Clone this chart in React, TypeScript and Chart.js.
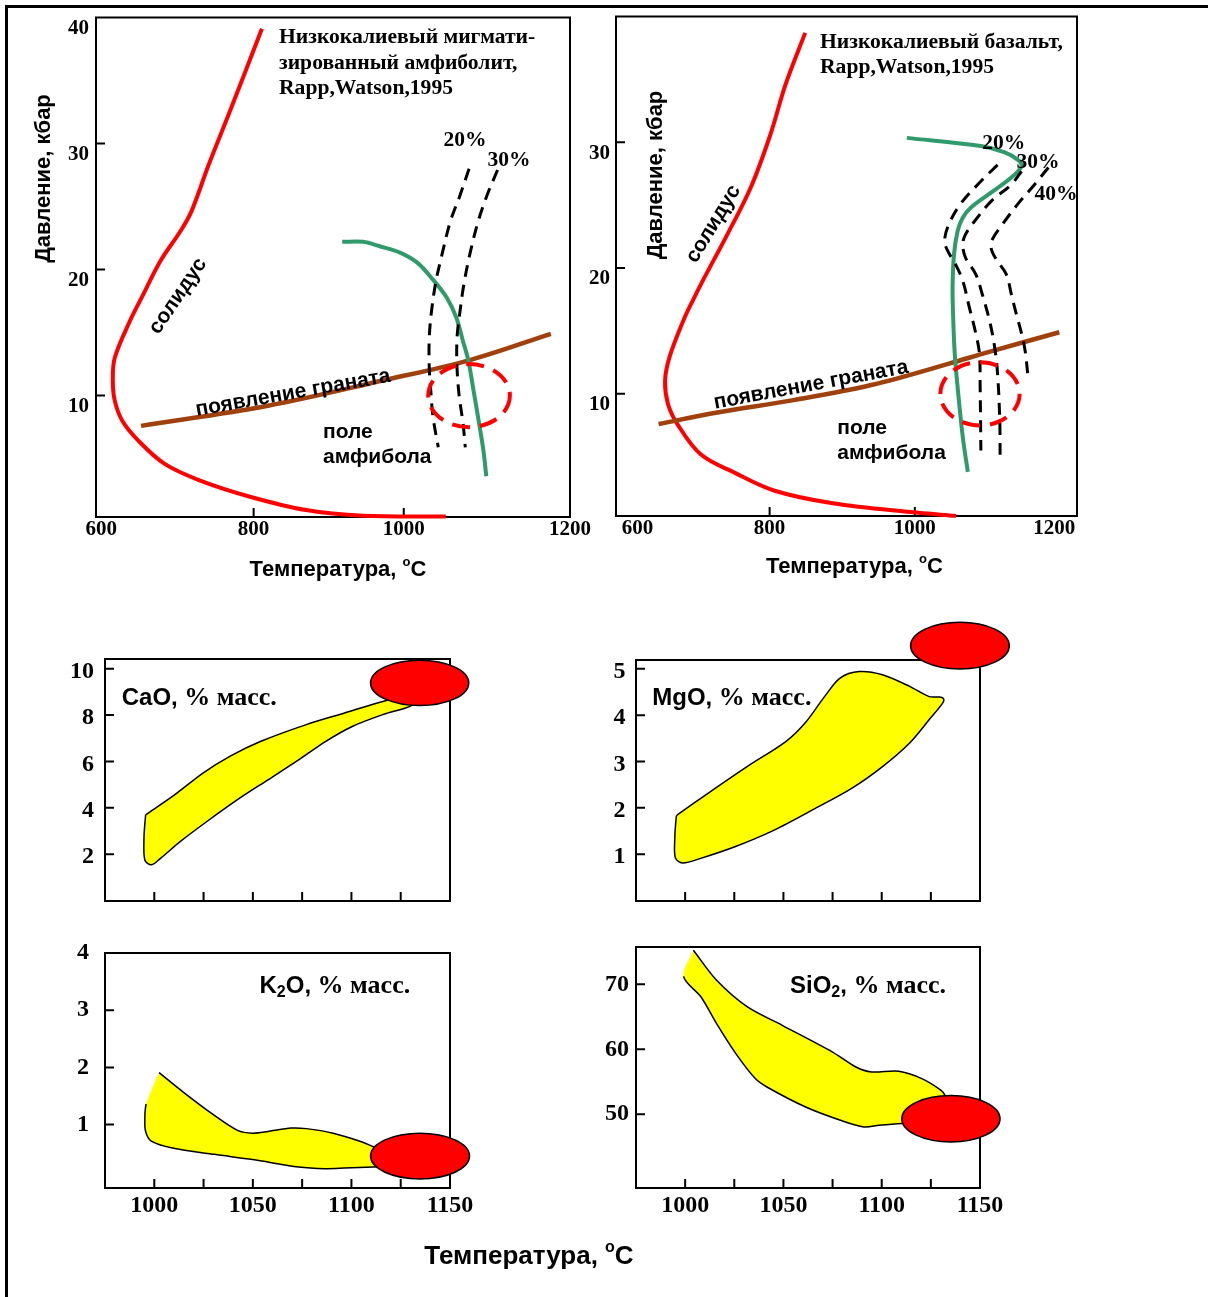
import React, { useEffect, useRef } from 'react';
import { Chart, registerables } from 'chart.js';

Chart.register(...registerables);

type Pt = [number, number];

// ---------- Panel 1: low-K migmatized amphibolite (T, P) ----------
const p1Solidus: Pt[] = [[811, 39.1], [768, 32.5], [740, 28.3], [717, 24.6], [702, 23.0], [676, 20.7], [651, 17.8], [635, 15.9], [615, 13.0], [612.4, 11.2], [615, 9.6], [625, 8.0], [646, 6.45], [681, 4.6], [727, 3.3], [794, 2.0], [870, 0.92], [946, 0.47], [1056, 0.4]];
const p1Garnet: Pt[] = [[650, 7.6], [819, 9.2], [972, 11.2], [1087, 12.8], [1196, 14.9]];
const p1Amphibole: Pt[] = [[918, 22.2], [946, 22.2], [968, 21.85], [995, 21.35], [1018, 20.55], [1039, 19.2], [1057, 17.8], [1070, 16.2], [1079, 14.3], [1086, 12.8], [1093, 10.4], [1099, 8.3], [1106, 5.7], [1110, 3.6]];
const p1Melt20: Pt[] = [[1087, 28.0], [1075, 25.9], [1062, 23.8], [1051, 21.2], [1043, 19.1], [1037, 16.7], [1034, 14.6], [1034, 12.2], [1036, 10.4], [1039, 8.3], [1046, 5.9]];
const p1Melt30: Pt[] = [[1125, 27.9], [1111, 25.9], [1099, 23.8], [1088, 21.2], [1080, 18.8], [1075, 16.7], [1071, 14.6], [1071, 12.2], [1074, 9.9], [1079, 7.8], [1082, 5.9]];
const p1Field = [1087, 10.0, 54.4, 2.5]; // centre T, centre P, half-width T, half-height P
const p1XTicks = [597, 800, 1000, 1221.5];
const p1XLabels = ['600', '800', '1000', '1200'];
const p1YTicks = [10, 20, 30, 40];
const p1YLabels = ['10', '20', '30', '40'];

// ---------- Panel 2: low-K basalt (T, P) ----------
const p2Solidus: Pt[] = [[849, 38.7], [822, 34.6], [801, 30.6], [774, 26.4], [742, 22.7], [708, 19.0], [694, 17.4], [681, 15.8], [662, 12.9], [656, 11.05], [660, 9.2], [673, 7.6], [705, 5.2], [753, 3.7], [807, 2.3], [887, 1.3], [994, 0.6], [1057, 0.3]];
const p2Garnet: Pt[] = [[647, 7.6], [726, 8.5], [833, 9.5], [940, 10.7], [1047, 12.4], [1100, 13.3], [1199, 14.9]];
const p2Amphibole: Pt[] = [[989, 30.35], [1091, 29.7], [1124, 29.2], [1142, 28.6], [1147, 28.1], [1133, 27.2], [1105, 26.0], [1077, 24.8], [1066, 24.0], [1059, 22.95], [1054, 21.1], [1052, 18.45], [1053, 15.8], [1055, 13.2], [1059, 10.5], [1066, 6.6], [1073, 3.8]];
const p2Melt20: Pt[] = [[1114, 28.2], [1091, 26.9], [1063, 25.1], [1047, 23.5], [1041, 22.2], [1045, 21.4], [1056, 20.3], [1066, 19.0], [1075, 16.9], [1084, 14.8], [1089, 13.2], [1090, 10.5], [1091, 5.5]];
const p2Melt30: Pt[] = [[1147, 27.7], [1133, 26.65], [1105, 25.3], [1082, 23.7], [1070, 22.7], [1066, 21.9], [1070, 20.8], [1084, 19.5], [1093, 17.9], [1103, 15.8], [1110, 13.7], [1114, 11.6], [1117, 7.9], [1117.5, 4.85]];
const p2Melt40: Pt[] = [[1184, 28.0], [1165, 26.65], [1142, 25.1], [1121, 23.5], [1107, 22.3], [1105, 21.6], [1112, 20.7], [1126, 19.5], [1133, 17.9], [1140, 16.3], [1147, 14.8], [1152, 13.4], [1156, 11.3]];
const p2Field = [1089.8, 10.0, 54.6, 2.51];
const p2XTicks = [618, 800, 1000, 1192];
const p2XLabels = ['600', '800', '1000', '1200'];
const p2YTicks = [10, 20, 30];
const p2YLabels = ['10', '20', '30'];

// ---------- Lower panels: melt composition vs T ----------
const lowerXMarks = [1000, 1025, 1050, 1075, 1100, 1125];
const lowerXTicks = [1000, 1050, 1100, 1150];
const lowerXLabels = ['1000', '1050', '1100', '1150'];

const caoField: Pt[] = [[995.6, 3.7], [1009.2, 4.49], [1024.7, 5.5], [1038.3, 6.22], [1053.8, 6.86], [1077.1, 7.59], [1096.5, 8.09], [1115.9, 8.59], [1127.6, 8.81], [1136, 8.85], [1130.5, 8.41], [1115.9, 8.02], [1100.4, 7.51], [1086.8, 6.86], [1073.2, 6.07], [1057.7, 5.21], [1042.2, 4.35], [1026.7, 3.41], [1013.1, 2.54], [1003.3, 1.83], [998.5, 1.54], [995.2, 1.75], [994.8, 2.76], [995.6, 3.7]];
const caoMelt = [1134.6, 9.39, 24.9, 0.98];
const caoYTicks = [2, 4, 6, 8, 10];

const mgoField: Pt[] = [[996.0, 1.85], [1011.8, 2.32], [1031.5, 2.89], [1051.2, 3.43], [1061.0, 3.83], [1070.9, 4.4], [1078.8, 4.8], [1088.6, 4.94], [1100.4, 4.87], [1114.2, 4.62], [1124.1, 4.4], [1129.5, 4.39], [1131.5, 4.35], [1131.0, 4.26], [1124.1, 3.9], [1114.2, 3.4], [1100.4, 2.89], [1084.7, 2.42], [1065.0, 1.96], [1045.3, 1.52], [1025.3, 1.16], [1007.9, 0.91], [999.0, 0.81], [995.1, 0.91], [994.7, 1.31], [995.5, 1.81], [996.0, 1.85]];
const mgoMelt = [1139.8, 5.5, 25.1, 0.503];
const mgoYTicks = [1, 2, 3, 4, 5];

const k2oField: Pt[] = [[1002.4, 1.91], [1015.0, 1.56], [1030.5, 1.16], [1042.2, 0.9], [1049.9, 0.85], [1057.7, 0.88], [1069.4, 0.94], [1077.1, 0.93], [1090.7, 0.85], [1104.3, 0.71], [1113.0, 0.59], [1122.2, 0.5], [1125, 0.38], [1122.2, 0.28], [1111.1, 0.26], [1096.5, 0.24], [1086.8, 0.23], [1073.2, 0.26], [1049.9, 0.39], [1030.5, 0.48], [1009.2, 0.59], [998.5, 0.71], [995.6, 0.88], [995.2, 1.1], [995.9, 1.36], [1002.4, 1.91]];
const k2oMelt = [1134.8, 0.45, 25.1, 0.4];
const k2oYTicks = [1, 2, 3, 4];

const sio2Field: Pt[] = [[1004.2, 75.23], [1016.0, 70.62], [1031.7, 66.51], [1049.4, 63.69], [1075.0, 59.58], [1086.9, 57.28], [1094.8, 56.51], [1108.6, 56.62], [1120.4, 55.49], [1130.2, 53.69], [1132.2, 52.92], [1135, 50.5], [1130, 48.8], [1110.5, 48.57], [1098.7, 48.31], [1090.9, 48.05], [1079.0, 49.08], [1061.3, 51.12], [1041.6, 54.2], [1035.7, 55.49], [1025.8, 59.34], [1016.0, 63.95], [1008.1, 68.05], [999.2, 71.23], [1004.2, 75.23]];
const sio2Melt = [1135.2, 49.31, 25.0, 3.57];
const sio2YTicks = [50, 60, 70];

// ---------- styling ----------
const SANS = '"Liberation Sans", Arial, Helvetica, sans-serif';
const SERIF = '"Liberation Serif", "Times New Roman", Times, serif';
const sans = (s: number) => `bold ${s}px ${SANS}`;
const serif = (s: number) => `bold ${s}px ${SERIF}`;
const RED = '#ff0000';
const GREEN = '#2f9a6a';
const BROWN = '#a0410d';
const YELLOW = '#ffff00';

type Run = { t: string; f: string; dy?: number };
type Label = { runs: Run[]; x: number; y: number; align: 'left' | 'center'; rot?: number };
type Ellipse = { c: number[]; filled: boolean };

interface PanelSpec {
  box: [number, number, number, number];
  frame: [number, number, number, number];
  x: [number, number];
  y: [number, number];
  xTicks: number[];
  xLabels: string[];
  xMarks: number[];
  xPad: number;
  yTicks: number[];
  yLabels: string[];
  yMarks: number[];
  yPad: number;
  yOff: number;
  tickSize: number;
  datasets: any[];
  ellipses: Ellipse[];
  labels: Label[];
}

const toXY = (pts: Pt[]) => pts.map(([x, y]) => ({ x, y }));

const curve = (pts: Pt[], color: string, width: number, dash: number[] = []) => ({
  data: toXY(pts),
  borderColor: color,
  borderWidth: width,
  borderDash: dash,
  borderCapStyle: 'butt',
  borderJoinStyle: 'round',
  pointRadius: 0,
  tension: 0.35,
  fill: false,
  clip: false,
});

const region = (pts: Pt[], openClosingEdge: boolean) => ({
  data: toXY(pts),
  borderColor: '#000',
  borderWidth: 1.5,
  backgroundColor: YELLOW,
  fill: 'shape',
  pointRadius: 0,
  tension: 0.3,
  clip: false,
  segment: {
    borderColor: (ctx: any) =>
      openClosingEdge && ctx.p1DataIndex === pts.length - 1 ? 'rgba(0,0,0,0)' : '#000',
  },
});

const txt = (t: string, f: string, x: number, y: number, align: 'left' | 'center' = 'left', rot = 0): Label => ({
  runs: [{ t, f }],
  x,
  y,
  align,
  rot,
});

const tempTitle = (x: number, y: number, size: number): Label => ({
  runs: [
    { t: 'Температура, ', f: sans(size) },
    { t: 'o', f: sans(Math.round(size * 0.6)), dy: -size * 0.35 },
    { t: 'C', f: sans(size) },
  ],
  x,
  y,
  align: 'center',
});

const oxideLabel = (first: Run[], x: number, y: number): Label => ({
  runs: [...first, { t: ' % масс.', f: serif(26) }],
  x,
  y,
  align: 'left',
});

const panels: PanelSpec[] = [
  {
    box: [0, 0, 600, 600],
    frame: [96, 15, 570, 517],
    x: [590, 1221.5],
    y: [0.37, 40],
    xTicks: p1XTicks,
    xLabels: p1XLabels,
    xMarks: [800, 1000],
    xPad: 2.5,
    yTicks: p1YTicks,
    yLabels: p1YLabels,
    yMarks: [10, 20, 30],
    yPad: 7,
    yOff: 11,
    tickSize: 21,
    datasets: [
      curve(p1Melt20, '#000', 3, [12, 8]),
      curve(p1Melt30, '#000', 3, [12, 8]),
      curve(p1Amphibole, GREEN, 4),
      curve(p1Garnet, BROWN, 4.5),
      curve(p1Solidus, RED, 4),
    ],
    ellipses: [{ c: p1Field, filled: false }],
    labels: [
      txt('Низкокалиевый мигмати-', serif(21.6), 279, 37),
      txt('зированный амфиболит,', serif(21.6), 279, 63),
      txt('Rapp,Watson,1995', serif(21.6), 279, 88.5),
      txt('20%', serif(21.5), 465, 140, 'center'),
      txt('30%', serif(21.5), 509, 160, 'center'),
      txt('солидус', sans(21), 178, 296, 'center', -56),
      txt('появление граната', sans(21), 293, 393, 'center', -10),
      txt('поле', sans(21), 323, 432),
      txt('амфибола', sans(21), 323, 457),
      txt('Давление, кбар', sans(22), 44, 178.5, 'center', -90),
      tempTitle(338, 570, 22),
    ],
  },
  {
    box: [570, 0, 638, 600],
    frame: [616, 15, 1077, 516],
    x: [588.4, 1223.4],
    y: [0.29, 40],
    xTicks: p2XTicks,
    xLabels: p2XLabels,
    xMarks: [800, 1000],
    xPad: 2,
    yTicks: p2YTicks,
    yLabels: p2YLabels,
    yMarks: [10, 20, 30],
    yPad: 6,
    yOff: 11,
    tickSize: 21,
    datasets: [
      curve(p2Melt20, '#000', 3, [12, 8]),
      curve(p2Melt30, '#000', 3, [12, 8]),
      curve(p2Melt40, '#000', 3, [12, 8]),
      curve(p2Amphibole, GREEN, 4),
      curve(p2Garnet, BROWN, 4.5),
      curve(p2Solidus, RED, 4),
    ],
    ellipses: [{ c: p2Field, filled: false }],
    labels: [
      txt('Низкокалиевый базальт,', serif(21.6), 820, 42),
      txt('Rapp,Watson,1995', serif(21.6), 820, 67),
      txt('20%', serif(21.5), 1003.7, 143.3, 'center'),
      txt('30%', serif(21.5), 1038, 162.7, 'center'),
      txt('40%', serif(21.5), 1056, 194, 'center'),
      txt('солидус', sans(21), 713.4, 224, 'center', -59),
      txt('появление граната', sans(21), 811, 385, 'center', -10.5),
      txt('поле', sans(21), 837.3, 428.3),
      txt('амфибола', sans(21), 837.3, 453.3),
      txt('Давление, кбар', sans(22), 656, 175, 'center', -90),
      tempTitle(854.4, 566.7, 22),
    ],
  },
  {
    box: [0, 600, 600, 330],
    frame: [105, 659, 450, 901],
    x: [975, 1150],
    y: [-0.02, 10.42],
    xTicks: lowerXMarks,
    xLabels: [],
    xMarks: lowerXMarks,
    xPad: 5,
    yTicks: caoYTicks,
    yLabels: caoYTicks.map(String),
    yMarks: caoYTicks,
    yPad: 11,
    yOff: 3,
    tickSize: 24,
    datasets: [region(caoField, false)],
    ellipses: [{ c: caoMelt, filled: true }],
    labels: [oxideLabel([{ t: 'CaO,', f: sans(24) }], 121.7, 698.3)],
  },
  {
    box: [580, 600, 628, 330],
    frame: [636, 660, 980, 901],
    x: [975, 1150],
    y: [-0.01, 5.19],
    xTicks: lowerXMarks,
    xLabels: [],
    xMarks: lowerXMarks,
    xPad: 5,
    yTicks: mgoYTicks,
    yLabels: mgoYTicks.map(String),
    yMarks: mgoYTicks,
    yPad: 10.5,
    yOff: 3,
    tickSize: 24,
    datasets: [region(mgoField, false)],
    ellipses: [{ c: mgoMelt, filled: true }],
    labels: [oxideLabel([{ t: 'MgO,', f: sans(24) }], 652.3, 698.3)],
  },
  {
    box: [0, 925, 700, 372],
    frame: [105, 947, 450, 1188],
    x: [975, 1150],
    y: [-0.108, 4],
    xTicks: lowerXTicks,
    xLabels: lowerXLabels,
    xMarks: lowerXMarks,
    xPad: 5.3,
    yTicks: k2oYTicks,
    yLabels: k2oYTicks.map(String),
    yMarks: [1, 2, 3],
    yPad: 16,
    yOff: 0,
    tickSize: 24,
    datasets: [region(k2oField, true)],
    ellipses: [{ c: k2oMelt, filled: true }],
    labels: [
      oxideLabel(
        [
          { t: 'K', f: sans(24) },
          { t: '2', f: sans(16), dy: 6 },
          { t: 'O,', f: sans(24) },
        ],
        259.5,
        986.7
      ),
      tempTitle(529, 1256.7, 26),
    ],
  },
  {
    box: [580, 925, 628, 372],
    frame: [636, 947, 980, 1188],
    x: [975, 1150],
    y: [38.66, 75.74],
    xTicks: lowerXTicks,
    xLabels: lowerXLabels,
    xMarks: lowerXMarks,
    xPad: 5.3,
    yTicks: sio2YTicks,
    yLabels: sio2YTicks.map(String),
    yMarks: sio2YTicks,
    yPad: 7,
    yOff: 0,
    tickSize: 24,
    datasets: [region(sio2Field, true)],
    ellipses: [{ c: sio2Melt, filled: true }],
    labels: [
      oxideLabel(
        [
          { t: 'SiO', f: sans(24) },
          { t: '2', f: sans(16), dy: 6 },
          { t: ',', f: sans(24) },
        ],
        790,
        986.7
      ),
    ],
  },
];

function drawLabel(ctx: CanvasRenderingContext2D, lb: Label, ox: number, oy: number) {
  ctx.save();
  ctx.translate(lb.x - ox, lb.y - oy);
  if (lb.rot) ctx.rotate((lb.rot * Math.PI) / 180);
  ctx.fillStyle = '#000';
  ctx.textBaseline = 'middle';
  ctx.textAlign = 'left';
  const widths = lb.runs.map((r) => {
    ctx.font = r.f;
    return ctx.measureText(r.t).width;
  });
  const total = widths.reduce((a, b) => a + b, 0);
  let x = lb.align === 'center' ? -total / 2 : 0;
  lb.runs.forEach((r, i) => {
    ctx.font = r.f;
    ctx.fillText(r.t, x, r.dy || 0);
    x += widths[i];
  });
  ctx.restore();
}

function Panel({ spec }: { spec: PanelSpec }) {
  const ref = useRef<HTMLCanvasElement>(null);
  useEffect(() => {
    const [bl, bt, bw, bh] = spec.box;
    const [fl, ft, fr, fb] = spec.frame;
    const tickFont = { family: SERIF, size: spec.tickSize, weight: 'bold' as const, lineHeight: 1 };
    const decor = {
      id: 'decor',
      beforeDatasetsDraw(chart: any) {
        const { ctx, chartArea: a, scales } = chart;
        ctx.save();
        ctx.strokeStyle = '#000';
        ctx.lineWidth = 2;
        ctx.strokeRect(a.left, a.top, a.right - a.left, a.bottom - a.top);
        ctx.beginPath();
        spec.xMarks.forEach((v) => {
          const p = scales.x.getPixelForValue(v);
          ctx.moveTo(p, a.bottom);
          ctx.lineTo(p, a.bottom - 9);
        });
        spec.yMarks.forEach((v) => {
          const p = scales.y.getPixelForValue(v);
          ctx.moveTo(a.left, p);
          ctx.lineTo(a.left + 9, p);
        });
        ctx.stroke();
        ctx.restore();
      },
      afterDatasetsDraw(chart: any) {
        const { ctx, scales } = chart;
        spec.ellipses.forEach((e) => {
          const cx = scales.x.getPixelForValue(e.c[0]);
          const cy = scales.y.getPixelForValue(e.c[1]);
          const rx = Math.abs(scales.x.getPixelForValue(e.c[0] + e.c[2]) - cx);
          const ry = Math.abs(scales.y.getPixelForValue(e.c[1] + e.c[3]) - cy);
          ctx.save();
          ctx.beginPath();
          ctx.ellipse(cx, cy, rx, ry, 0, 0, Math.PI * 2);
          if (e.filled) {
            ctx.fillStyle = RED;
            ctx.fill();
            ctx.strokeStyle = '#000';
            ctx.lineWidth = 1.5;
            ctx.stroke();
          } else {
            ctx.setLineDash([18, 10]);
            ctx.strokeStyle = RED;
            ctx.lineWidth = 4;
            ctx.stroke();
          }
          ctx.restore();
        });
      },
      afterDraw(chart: any) {
        spec.labels.forEach((lb) => drawLabel(chart.ctx, lb, bl, bt));
      },
    };
    const chart = new Chart(ref.current as HTMLCanvasElement, {
      type: 'line',
      data: { datasets: spec.datasets },
      options: {
        animation: false,
        responsive: false,
        maintainAspectRatio: false,
        devicePixelRatio: 1,
        events: [],
        layout: { padding: { left: 0, top: ft - bt, right: bl + bw - fr, bottom: 0 } },
        plugins: { legend: { display: false }, tooltip: { enabled: false }, title: { display: false } },
        elements: { point: { radius: 0 }, line: { capBezierPoints: false } },
        scales: {
          x: {
            type: 'linear',
            position: 'bottom',
            min: spec.x[0],
            max: spec.x[1],
            grid: { display: false, drawTicks: false },
            border: { display: false },
            afterFit: (s: any) => {
              s.height = bt + bh - fb;
            },
            afterBuildTicks: (s: any) => {
              s.ticks = spec.xTicks.map((v) => ({ value: v }));
            },
            ticks: {
              display: spec.xLabels.length > 0,
              autoSkip: false,
              maxRotation: 0,
              minRotation: 0,
              padding: spec.xPad,
              color: '#000',
              font: tickFont,
              callback: (_v: any, i: number) => spec.xLabels[i] ?? '',
            },
          },
          y: {
            type: 'linear',
            position: 'left',
            min: spec.y[0],
            max: spec.y[1],
            grid: { display: false, drawTicks: false },
            border: { display: false },
            afterFit: (s: any) => {
              s.width = fl - bl;
            },
            afterBuildTicks: (s: any) => {
              s.ticks = spec.yTicks.map((v) => ({ value: v }));
            },
            ticks: {
              autoSkip: false,
              padding: spec.yPad,
              labelOffset: spec.yOff,
              color: '#000',
              font: tickFont,
              callback: (_v: any, i: number) => spec.yLabels[i] ?? '',
            },
          },
        },
      } as any,
      plugins: [decor as any],
    });
    return () => chart.destroy();
  }, []);
  const [bl, bt, bw, bh] = spec.box;
  return (
    <canvas
      ref={ref}
      width={bw}
      height={bh}
      style={{ position: 'absolute', left: bl, top: bt, width: bw, height: bh }}
    />
  );
}

export default function App() {
  return (
    <div
      style={{
        position: 'absolute',
        left: 0,
        top: 0,
        width: 1208,
        height: 1297,
        background: '#fff',
        overflow: 'hidden',
      }}
    >
      <div style={{ position: 'absolute', left: 5, top: 5, width: 1203, height: 3, background: '#000' }} />
      <div style={{ position: 'absolute', left: 5, top: 5, width: 3, height: 1292, background: '#000' }} />
      {panels.map((p, i) => (
        <Panel key={i} spec={p} />
      ))}
    </div>
  );
}
